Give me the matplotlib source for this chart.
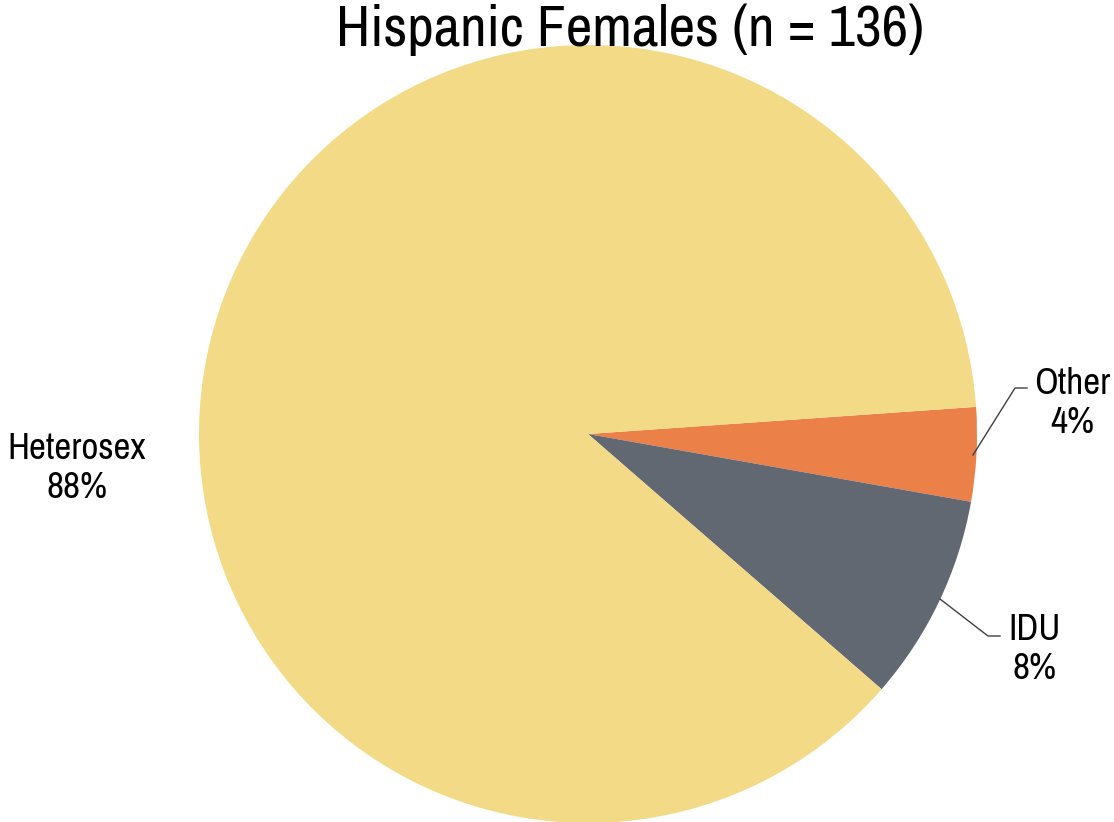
import matplotlib.pyplot as plt
from matplotlib import font_manager

# data (shares, in percent)
labels = ["Other", "IDU", "Heterosex"]
pcts = ["4%", "8%", "88%"]
shares = [3.9, 8.6, 87.5]
colours = ["#EB8048", "#626872", "#F2DA86"]

# prefer a narrow face if one happens to be installed
names = sorted({f.name for f in font_manager.fontManager.ttflist})
narrow = [n for n in names if "Narrow" in n or "Condensed" in n]
fam = narrow[0] if narrow else "Liberation Sans"
scale = 1.07 if narrow else 0.93
plt.rcParams['font.family'] = [fam, 'DejaVu Sans']

fig = plt.figure(figsize=(11.14, 8.22), dpi=100)
W, H = 1114, 822
cx, cy, r = 588, 434, 389
ax = fig.add_axes([(cx - r) / W, (H - cy - r) / H, 2 * r / W, 2 * r / H])

ax.pie(shares, colors=colours, startangle=4, counterclock=False,
       radius=1, wedgeprops=dict(linewidth=0))
ax.set_xlim(-1, 1)
ax.set_ylim(-1, 1)
ax.axis('off')


def px(x, y):
    # pixel -> data coords of the pie axes
    return (x - cx) / r, (cy - y) / r


# slice labels
label_pos = {"Other": (1072, 403), "IDU": (1035, 649), "Heterosex": (77, 468)}
for lab, pct in zip(labels, pcts):
    x, y = px(*label_pos[lab])
    ax.text(x, y, lab + "\n" + pct, ha='center', va='center',
            fontsize=25 * scale, linespacing=1.2, clip_on=False)

# leader lines
leaders = [[(973, 455), (1015, 388), (1027, 388)],
           [(940, 599), (988, 636), (1000, 636)]]
for pts in leaders:
    xs, ys = zip(*[px(*p) for p in pts])
    ax.plot(xs, ys, color="#404040", lw=1.0, clip_on=False)

fig.text(630 / W, 1 - 30 / H, "Hispanic Females (n = 136)", ha='center',
         va='center', fontsize=39 * scale)

fig.savefig("out.png", dpi=100)
